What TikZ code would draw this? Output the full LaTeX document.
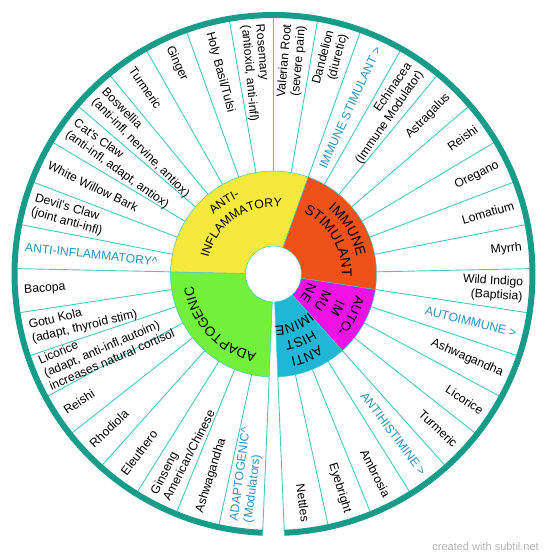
\documentclass[tikz,border=0pt]{standalone}
\usepackage{fontspec}
\setmainfont{Liberation Sans}
\usetikzlibrary{calc,decorations.text}
\definecolor{ringc}{HTML}{169C88}
\definecolor{spokec}{HTML}{48C8C0}
\definecolor{headc}{HTML}{2A93BE}
\definecolor{yellowc}{HTML}{F4E93C}
\definecolor{orangec}{HTML}{EE5219}
\definecolor{magentac}{HTML}{EE12E4}
\definecolor{greenc}{HTML}{72F03C}
\definecolor{cyanc}{HTML}{20B6D6}
\definecolor{creditc}{HTML}{B4B4B4}
\tikzset{
  olab/.style={font=\fontsize{12.2}{14}\selectfont, inner sep=0pt, text=black},
  hdlab/.style={text=headc},
  tx/.style={},
  spoke/.style={draw=spokec, line width=0.9pt},
  sect/.style={draw=spokec, line width=0.5pt}
}
\newcommand\outerlabel[4]{%
  \pgfmathsetmacro\mang{267.6-(#1+0.5)*9.8667}%
  \ifnum#1<18\relax
    \node[olab,#3,anchor=west,align=left,rotate=\mang+180] (#2) at ($(C)+(\mang:250pt)$) {#4};%
  \else
    \node[olab,#3,anchor=east,align=right,rotate=\mang] (#2) at ($(C)+(\mang:250pt)$) {#4};%
  \fi}
\newcommand\wedgesector[3]{%
  \path[sect, fill=#3] ($(C)+(#1:28pt)$) -- ($(C)+(#1:103pt)$)
    arc[start angle=#1, end angle=#2, radius=103pt] -- ($(C)+(#2:28pt)$)
    arc[start angle=#2, end angle=#1, radius=28pt] -- cycle;}
% curved text: mid angle, baseline radius, font size, text
\newcommand\curvedtext[4]{%
  \pgfmathsetmacro\cta{#1+75}%
  \pgfmathsetmacro\ctb{#1-75}%
  \path[decorate, decoration={text along path, text align=center,
      text={|\fontsize{#3}{#3}\selectfont|#4}}]
    ($(C)+(\cta:#2pt)$) arc[start angle=\cta, end angle=\ctb, radius=#2pt];}
\begin{document}
\begin{tikzpicture}[x=1pt,y=1pt]
\useasboundingbox (0,0) rectangle (550,558);
\fill[white] (0,0) rectangle (550,558);
\coordinate (C) at (273.5,284);
% spokes
\foreach \k in {0,...,36}{
  \pgfmathsetmacro\ba{267.6-\k*9.8667}
  \draw[spoke] ($(C)+(\ba:103pt)$) -- ($(C)+(\ba:257pt)$);
}
% inner sectors
\wedgesector{267.6}{178.8}{greenc}
\wedgesector{178.8}{70.267}{yellowc}
\wedgesector{70.267}{-8.667}{orangec}
\wedgesector{-8.667}{-48.133}{magentac}
\wedgesector{-48.133}{-87.6}{cyanc}
% outer ring
\draw[ringc, line width=6pt] ($(C)+(-87.6:259pt)$) arc[start angle=-87.6, end angle=267.6, radius=259pt];
% inner curved labels
\curvedtext{124.53}{84}{12.2}{ANTI-}
\curvedtext{124.53}{67}{12.2}{INFLAMMATORY}
\curvedtext{30.8}{85}{14}{IMMUNE}
\curvedtext{30.8}{68.5}{14}{STIMULANT}
\curvedtext{-28.4}{85}{13.2}{AUTO-}
\curvedtext{-28.4}{68.5}{13.2}{IM}
\curvedtext{-28.4}{52}{13.2}{MU}
\curvedtext{-28.4}{35.5}{13.2}{NE}
\curvedtext{-67.87}{85}{13.5}{ANTI}
\curvedtext{-67.87}{68.5}{13.5}{HIST}
\curvedtext{-67.87}{52}{13.5}{IMINE}
\curvedtext{223.2}{81}{13.5}{ADAPTOGENIC}
% outer labels
\outerlabel{0}{o0}{hdlab}{ADAPTOGENIC\textasciicircum\\(Modulators)}
\outerlabel{1}{o1}{tx}{Ashwagandha}
\outerlabel{2}{o2}{tx}{Ginseng\\American/Chinese}
\outerlabel{3}{o3}{tx}{Eleuthero}
\outerlabel{4}{o4}{tx}{Rhodiola}
\outerlabel{5}{o5}{tx}{Reishi}
\outerlabel{6}{o6}{tx}{Licorice\\(adapt, anti-infl,autoim)\\increases natural cortisol}
\outerlabel{7}{o7}{tx}{Gotu Kola\\(adapt, thyroid stim)}
\outerlabel{8}{o8}{tx}{Bacopa}
\outerlabel{9}{o9}{hdlab}{ANTI-INFLAMMATORY\textasciicircum}
\outerlabel{10}{o10}{tx}{Devil's Claw\\(joint anti-infl)}
\outerlabel{11}{o11}{tx}{White Willow Bark}
\outerlabel{12}{o12}{tx}{Cat's Claw\\(anti-infl, adapt, antiox)}
\outerlabel{13}{o13}{tx}{Boswellia\\(anti-infl, nervine, antiox)}
\outerlabel{14}{o14}{tx}{Turmeric}
\outerlabel{15}{o15}{tx}{Ginger}
\outerlabel{16}{o16}{tx}{Holy Basil/Tulsi}
\outerlabel{17}{o17}{tx}{Rosemary\\(antioxid, anti-infl)}
\outerlabel{18}{o18}{tx}{Valerian Root\\(severe pain)}
\outerlabel{19}{o19}{tx}{Dandelion\\(diuretic)}
\outerlabel{20}{o20}{hdlab}{IMMUNE STIMULANT >}
\outerlabel{21}{o21}{tx}{Echinacea\\(Immune Modulator)}
\outerlabel{22}{o22}{tx}{Astragalus}
\outerlabel{23}{o23}{tx}{Reishi}
\outerlabel{24}{o24}{tx}{Oregano}
\outerlabel{25}{o25}{tx}{Lomatium}
\outerlabel{26}{o26}{tx}{Myrrh}
\outerlabel{27}{o27}{tx}{Wild Indigo\\(Baptisia)}
\outerlabel{28}{o28}{hdlab}{AUTOIMMUNE >}
\outerlabel{29}{o29}{tx}{Ashwagandha}
\outerlabel{30}{o30}{tx}{Licorice}
\outerlabel{31}{o31}{tx}{Turmeric}
\outerlabel{32}{o32}{hdlab}{ANTIHISTIMINE >}
\outerlabel{33}{o33}{tx}{Ambrosia}
\outerlabel{34}{o34}{tx}{Eyebright}
\outerlabel{35}{o35}{tx}{Nettles}
% credit
\node[anchor=base east, inner sep=0pt, text=creditc, font=\fontsize{11}{13}\selectfont] (credit) at (539,7) {created with subtil.net};
\end{tikzpicture}
\end{document}
